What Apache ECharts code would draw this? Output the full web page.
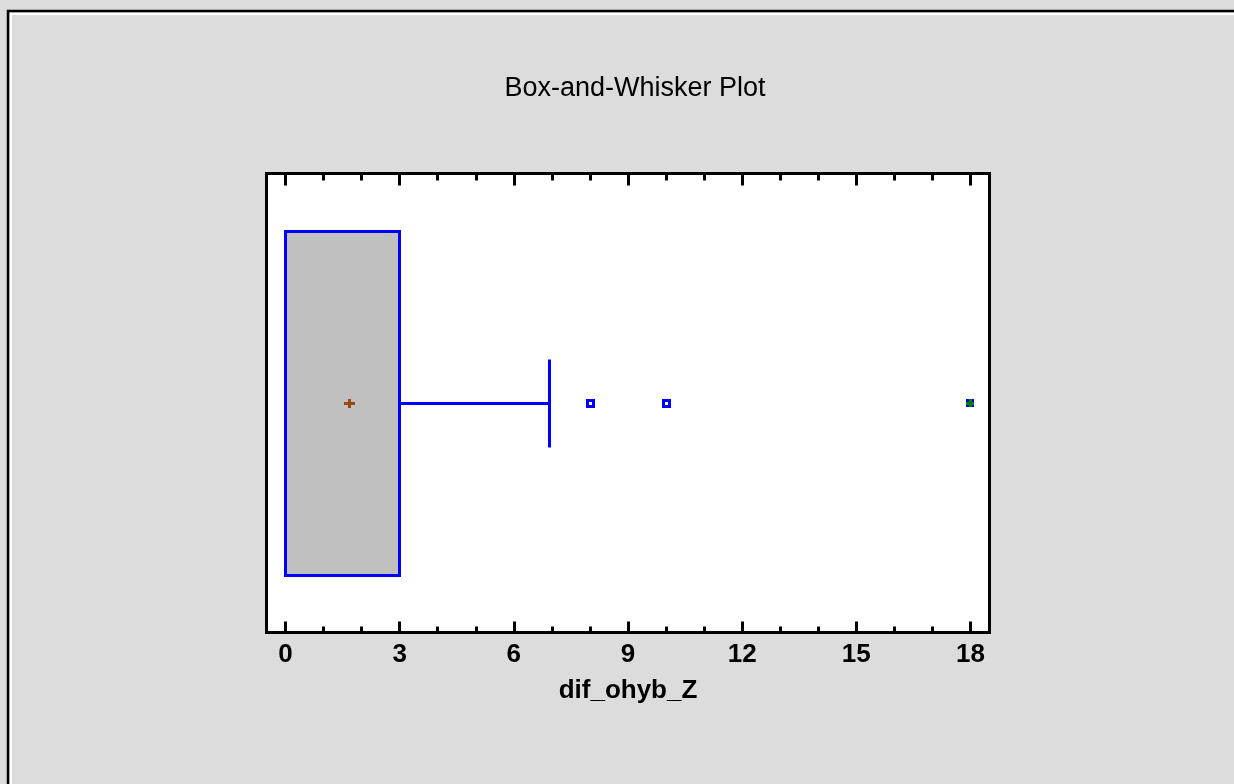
<!DOCTYPE html>
<html>
<head>
<meta charset="utf-8">
<title>Box-and-Whisker Plot</title>
<script src="https://cdn.jsdelivr.net/npm/echarts@6/dist/echarts.min.js"></script>
<style>
html, body { margin: 0; padding: 0; background: #dcdcdc; }
#boxChart { width: 1234px; height: 784px; }
</style>
</head>
<body>
<div id="boxChart"></div>
<script type="text/javascript">
'use strict';
// variable and summary stats
var category = ['dif_ohyb_Z'];
var boxStats = [0, 0, 0, 3, 6.95];   // min, Q1, median, Q3, whisker end
var meanValue = [1.68];
var outliers = [8, 10];
var farOutliers = [18];
var majorTicks = [0, 3, 6, 9, 12, 15, 18];
var minorTicks = [1, 2, 4, 5, 7, 8, 10, 11, 13, 14, 16, 17];

var font = '"Liberation Sans", Arial, sans-serif';
var blue = '#0000ff';

// keep 3px lines on whole pixels so they stay sharp
function snap(v) { return Math.round(v - 0.5) + 0.5; }

function renderBox(params, api) {
    var y = api.value(0);
    var lo = api.coord([api.value(1), y]);
    var q1 = api.coord([api.value(2), y]);
    var med = api.coord([api.value(3), y]);
    var q3 = api.coord([api.value(4), y]);
    var hi = api.coord([api.value(5), y]);
    var band = api.size([0, 1])[1];
    var half = Math.round(band * 0.375);
    var cap = Math.round(band * 0.096);
    var cy = snap(q1[1]);
    var line = { stroke: blue, lineWidth: 3, fill: null };
    var xl = snap(lo[0]), x1 = snap(q1[0]), xm = snap(med[0]), x3 = snap(q3[0]), xh = snap(hi[0]);
    return {
        type: 'group',
        children: [
            { type: 'line', shape: { x1: xl, y1: cy, x2: x1, y2: cy }, style: line },
            { type: 'line', shape: { x1: x3, y1: cy, x2: xh, y2: cy }, style: line },
            { type: 'line', shape: { x1: xh, y1: cy - cap, x2: xh, y2: cy + cap }, style: line },
            { type: 'rect', shape: { x: x1, y: cy - half, width: x3 - x1, height: half * 2 },
              style: { fill: '#c0c0c0', stroke: blue, lineWidth: 3 } },
            { type: 'line', shape: { x1: xm, y1: cy - half, x2: xm, y2: cy + half }, style: line }
        ]
    };
}

// point markers drawn on whole pixels
function renderMean(params, api) {
    var p = api.coord([api.value(0), api.value(1)]);
    var x = Math.round(p[0]), y = Math.round(p[1]);
    var c = { fill: '#9a4810' };
    return { type: 'group', children: [
        { type: 'rect', shape: { x: x - 5, y: y - 1, width: 11, height: 3 }, style: c },
        { type: 'rect', shape: { x: x - 1, y: y - 4, width: 3, height: 9 }, style: c }
    ] };
}

function renderOutlier(params, api) {
    var p = api.coord([api.value(0), api.value(1)]);
    var x = Math.round(p[0]), y = Math.round(p[1]);
    return { type: 'group', children: [
        { type: 'rect', shape: { x: x - 4, y: y - 4, width: 9, height: 9 }, style: { fill: blue } },
        { type: 'rect', shape: { x: x - 1, y: y - 1, width: 3, height: 3 }, style: { fill: '#fff' } }
    ] };
}

function renderFar(params, api) {
    var p = api.coord([api.value(0), api.value(1)]);
    var x = Math.round(p[0]), y = Math.round(p[1]);
    var g = { fill: '#008000' };
    return { type: 'group', children: [
        { type: 'rect', shape: { x: x - 4, y: y - 4, width: 8, height: 8 }, style: { fill: blue } },
        { type: 'rect', shape: { x: x - 4, y: y - 1, width: 8, height: 3 }, style: g },
        { type: 'rect', shape: { x: x - 1, y: y - 4, width: 3, height: 8 }, style: g }
    ] };
}

function tickAxis(pos, values, len, withLabel) {
    return {
        type: 'value', position: pos, min: -0.5, max: 18.5,
        axisLine: { show: false },
        splitLine: { show: false },
        axisTick: { show: true, inside: true, length: len, customValues: values,
                    lineStyle: { color: '#000', width: 3 } },
        axisLabel: withLabel ? { show: true, customValues: values, margin: 9,
                    color: '#000', fontSize: 26, fontWeight: 'bold', fontFamily: font } : { show: false }
    };
}

var mainAxis = tickAxis('bottom', majorTicks, 11, true);
mainAxis.name = category[0];
mainAxis.nameLocation = 'middle';
mainAxis.nameGap = 45;
mainAxis.nameTextStyle = { color: '#000', fontSize: 26, fontWeight: 'bold', fontFamily: font };

function points(values) {
    return values.map(function (v) { return [v, 0]; });
}

var option = {
    backgroundColor: '#dcdcdc',
    animation: false,
    title: {
        text: 'Box-and-Whisker Plot',
        left: 630, top: 70, textAlign: 'center',
        textStyle: { color: '#000', fontSize: 27, fontWeight: 'normal', fontFamily: font }
    },
    graphic: [
        { type: 'rect', shape: { x: 8, y: 11, width: 1260, height: 820 },
          style: { fill: null, stroke: '#000', lineWidth: 2.5 }, silent: true },
        { type: 'rect', shape: { x: 11, y: 14, width: 1260, height: 820 },
          style: { fill: null, stroke: '#fff', lineWidth: 2 }, silent: true }
    ],
    grid: {
        left: 266.5, right: 244.5, top: 173.5, bottom: 151.5,
        show: true, backgroundColor: '#fff', borderColor: '#000', borderWidth: 3
    },
    xAxis: [
        mainAxis,
        tickAxis('bottom', minorTicks, 6, false),
        tickAxis('top', majorTicks, 12, false),
        tickAxis('top', minorTicks, 7, false)
    ],
    yAxis: { type: 'category', data: category, show: false },
    series: [
        {
            type: 'custom',
            renderItem: renderBox,
            encode: { x: [1, 2, 3, 4, 5], y: 0 },
            data: [[0].concat(boxStats)],
            z: 2
        },
        { type: 'custom', renderItem: renderMean, encode: { x: 0, y: 1 }, data: points(meanValue), z: 3 },
        { type: 'custom', renderItem: renderOutlier, encode: { x: 0, y: 1 }, data: points(outliers), z: 3 },
        { type: 'custom', renderItem: renderFar, encode: { x: 0, y: 1 }, data: points(farOutliers), z: 3 }
    ]
};

var myChart = echarts.init(document.getElementById('boxChart'));
myChart.setOption(option);
window.onresize = myChart.resize;
</script>
</body>
</html>
